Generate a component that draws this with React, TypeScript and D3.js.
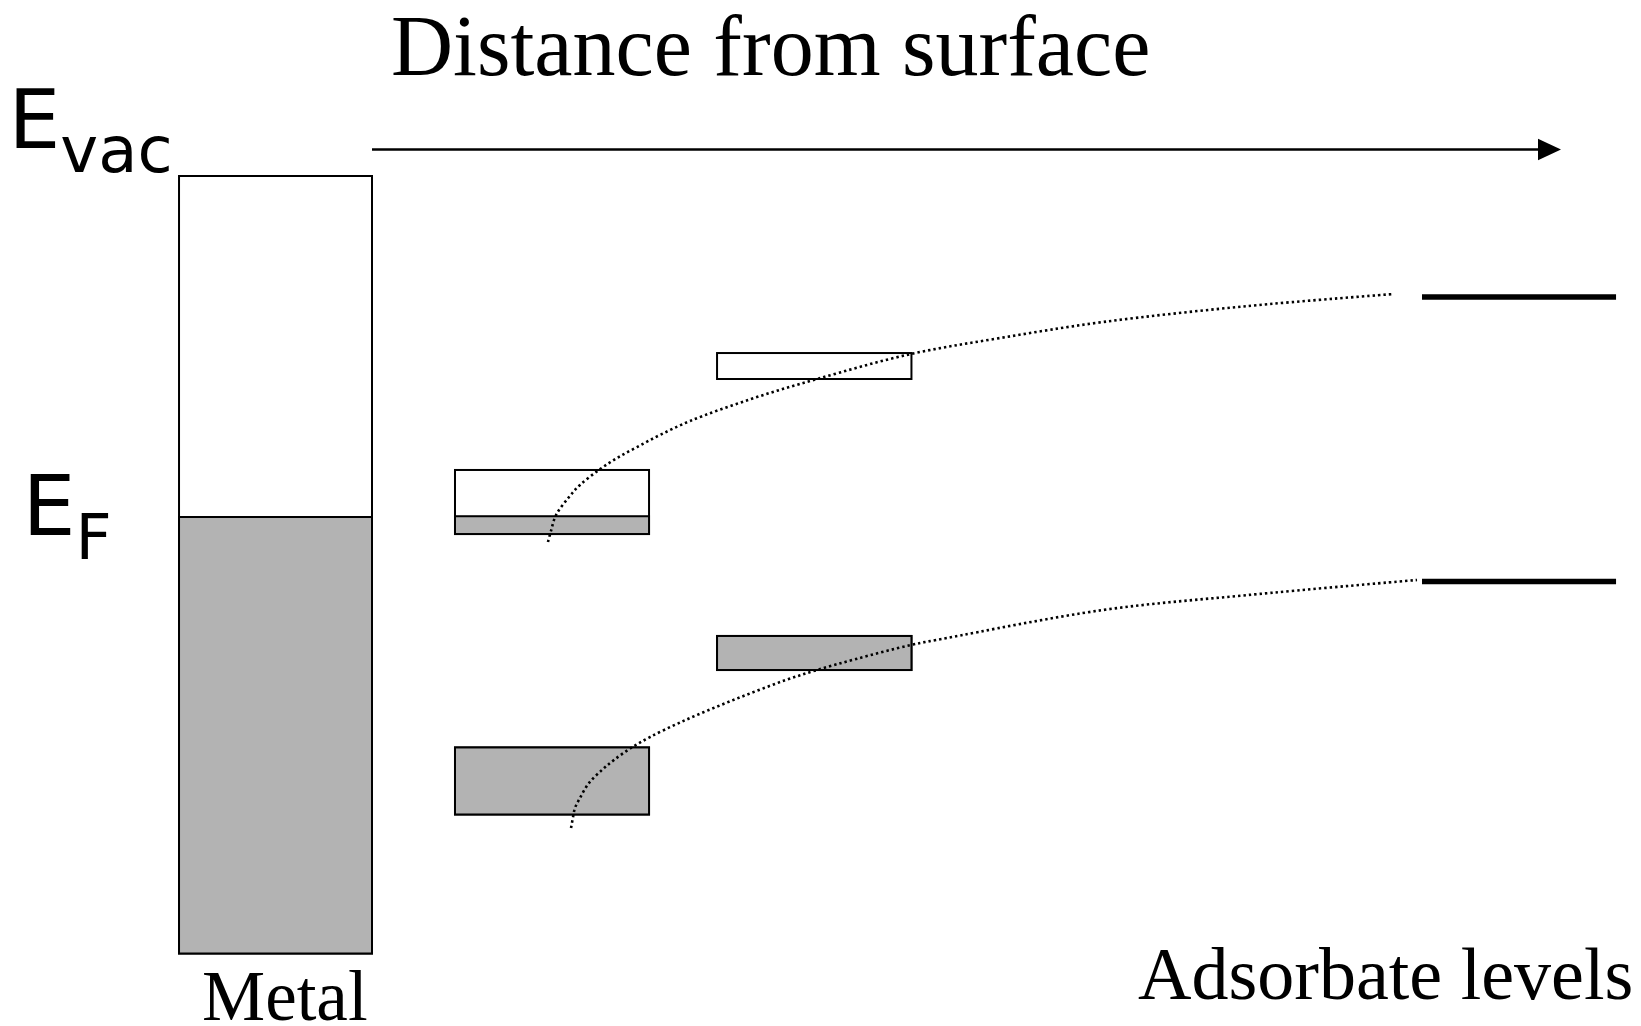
import React from 'react';
import * as d3 from 'd3';

const W = 1641;
const H = 1026;

// ---- data (distance from surface: arbitrary units 0..100, energy: eV relative to Evac) ----
const metalX = [-16.23, 0];
const metalEnergy = [0, -10]; // Evac .. band bottom
const fermiEnergy = -4.386;

const boxX0 = [6.98, 29.02, 29.02, 6.98];
const boxX1 = [23.3, 45.37, 45.37, 23.3];
const boxTop = [-3.781, -2.277, -5.916, -7.35];
const boxBottom = [-4.605, -2.611, -6.354, -8.212];
const boxFillTop = [-4.376, -2.611, -5.916, -7.35]; // occupied (grey) part starts here

const levelX = [88.31, 104.63];
const levelEnergy = [-1.556, -5.215];

const upperDist = [14.8, 15.05, 15.48, 16.57, 17.49, 19.09, 20.61, 22.29, 24.22, 26.75, 31.88, 37.43, 45.33, 52.82, 61.48, 73.68, 85.95];
const upperEnergy = [-4.707, -4.566, -4.36, -4.129, -3.974, -3.781, -3.627, -3.486, -3.331, -3.151, -2.868, -2.611, -2.289, -2.084, -1.878, -1.672, -1.518];

const lowerDist = [16.74, 16.91, 17.07, 17.49, 18.25, 19.43, 20.35, 21.78, 23.38, 25.99, 28.93, 31.88, 34.82, 37.43, 40.71, 45.33, 48.36, 61.48, 73.68, 87.89];
const lowerEnergy = [-8.386, -8.244, -8.129, -8.0, -7.807, -7.627, -7.511, -7.357, -7.216, -7.023, -6.83, -6.65, -6.482, -6.354, -6.212, -6.032, -5.942, -5.582, -5.389, -5.196];

const titleText = 'Distance from surface';
const metalLabel = 'Metal';
const adsorbateLabel = 'Adsorbate levels';

const GREY = '#b3b3b3';
const SERIF = '"Liberation Serif", "Times New Roman", serif';
const SANS = '"DejaVu Sans", sans-serif';

export default function App() {
  const x = d3.scaleLinear().domain([0, 100]).range([372, 1561]);
  const y = d3.scaleLinear().domain([0, -10]).range([176, 953.5]);

  const line = d3
    .line<[number, number]>()
    .x((d) => x(d[0]))
    .y((d) => y(d[1]))
    .curve(d3.curveCatmullRom.alpha(0.5));

  const upperPts = upperDist.map((d, i) => [d, upperEnergy[i]] as [number, number]);
  const lowerPts = lowerDist.map((d, i) => [d, lowerEnergy[i]] as [number, number]);

  const arrowY = 149.5;
  const arrowEnd = x(100);

  return (
    <svg
      width={W}
      height={H}
      viewBox={`0 0 ${W} ${H}`}
      style={{ position: 'absolute', left: 0, top: 0, background: '#fff' }}
    >
      <rect x={0} y={0} width={W} height={H} fill="#fff" />

      {/* title */}
      <text x={391} y={75} fontFamily={SERIF} fontSize={86} fill="#000">
        {titleText}
      </text>

      {/* distance arrow */}
      <line x1={x(0)} x2={arrowEnd - 22} y1={arrowY} y2={arrowY} stroke="#000" strokeWidth={2.6} />
      <path
        d={`M${arrowEnd - 23},${arrowY - 10.7} L${arrowEnd},${arrowY} L${arrowEnd - 23},${arrowY + 10.7} Z`}
        fill="#000"
      />

      {/* E_vac label */}
      <text x={8.5} y={148} fontFamily={SANS} fontSize={82} fill="#000">
        E
        <tspan fontSize={64} dy={24}>vac</tspan>
      </text>

      {/* E_F label */}
      <text x={22.5} y={535} fontFamily={SANS} fontSize={84} fill="#000">
        E
        <tspan fontSize={63} dy={24}>F</tspan>
      </text>

      {/* metal band */}
      <rect
        x={x(metalX[0])}
        y={y(metalEnergy[0])}
        width={x(metalX[1]) - x(metalX[0])}
        height={y(metalEnergy[1]) - y(metalEnergy[0])}
        fill="#fff"
        stroke="#000"
        strokeWidth={2}
      />
      <rect
        x={x(metalX[0])}
        y={y(fermiEnergy)}
        width={x(metalX[1]) - x(metalX[0])}
        height={y(metalEnergy[1]) - y(fermiEnergy)}
        fill={GREY}
        stroke="#000"
        strokeWidth={2}
      />

      {/* broadened adsorbate levels near surface */}
      {boxX0.map((bx, i) => {
        const x0 = x(bx);
        const w = x(boxX1[i]) - x0;
        const yt = y(boxTop[i]);
        const yb = y(boxBottom[i]);
        const yf = y(boxFillTop[i]);
        return (
          <g key={i}>
            <rect x={x0} y={yt} width={w} height={yb - yt} fill="#fff" stroke="#000" strokeWidth={2} />
            {yb - yf > 0.5 && (
              <rect x={x0} y={yf} width={w} height={yb - yf} fill={GREY} stroke="#000" strokeWidth={2} />
            )}
          </g>
        );
      })}

      {/* dotted level evolution curves */}
      <path d={line(upperPts) || ''} fill="none" stroke="#000" strokeWidth={2.6} strokeDasharray="2.4 3.0" />
      <path d={line(lowerPts) || ''} fill="none" stroke="#000" strokeWidth={2.6} strokeDasharray="2.4 3.0" />

      {/* free adsorbate levels */}
      {levelEnergy.map((e, i) => (
        <line
          key={i}
          x1={x(levelX[0])}
          x2={x(levelX[1])}
          y1={y(e)}
          y2={y(e)}
          stroke="#000"
          strokeWidth={5.5}
        />
      ))}

      {/* bottom labels */}
      <text x={202} y={1020} fontFamily={SERIF} fontSize={71} fill="#000">
        {metalLabel}
      </text>
      <text x={1138} y={999} fontFamily={SERIF} fontSize={74} fill="#000">
        {adsorbateLabel}
      </text>
    </svg>
  );
}
